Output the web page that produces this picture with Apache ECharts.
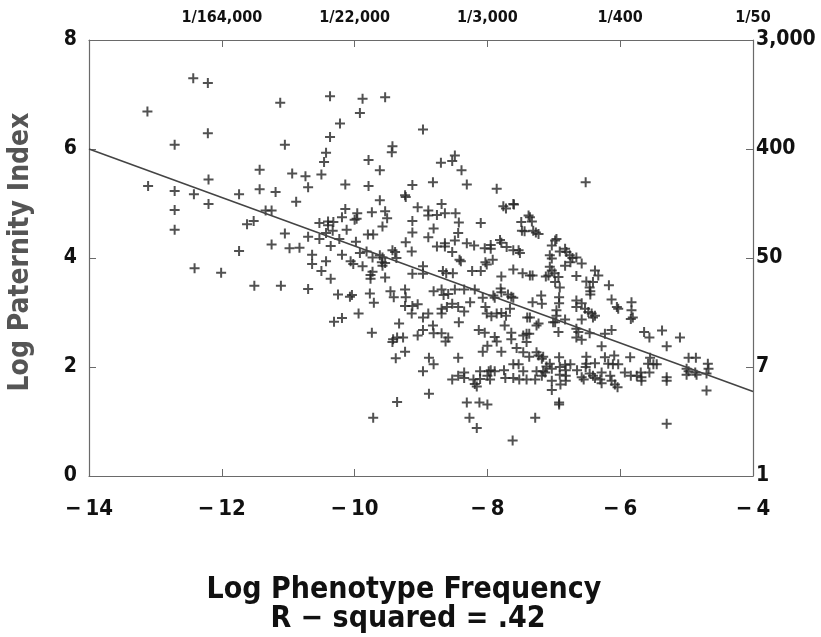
<!DOCTYPE html>
<html><head><meta charset="utf-8">
<script src="https://cdn.jsdelivr.net/npm/echarts/dist/echarts.min.js"></script>
<style>html,body{margin:0;padding:0;background:#fff}#c{width:821px;height:637px}</style>
</head><body><div id="c"></div>
<script>
// Tick labels
const topLabels = ['', '1/164,000', '1/22,000', '1/3,000', '1/400', '1/50'];
const rightLabels = ['1', '7', '50', '400', '3,000'];
// Regression line end points (Log Phenotype Frequency, Log Paternity Index)
const fitX = [-14, -4];
const fitY = [6.0, 1.55];
// Scatter points [log phenotype frequency, log paternity index]
const groupA = [[-12.43,7.30],[-12.21,7.21],[-13.12,6.69],[-11.12,6.85],[-12.21,6.29],[-12.71,6.08],[-11.05,6.08],[-11.43,5.62],[-10.94,5.55],[-10.74,5.50],[-12.20,5.44],[-13.11,5.32],[-10.70,5.30],[-12.71,5.23],[-12.42,5.17],[-11.74,5.17],[-11.43,5.26],[-11.19,5.21],[-12.20,4.99],[-10.88,5.03],[-12.71,4.88],[-11.34,4.87],[-11.25,4.87],[-11.52,4.68],[-11.62,4.62],[-12.71,4.52],[-11.05,4.45],[-10.70,4.39],[-11.25,4.25],[-10.98,4.18],[-10.83,4.19],[-11.74,4.13],[-12.41,3.81],[-12.01,3.73],[-11.51,3.49],[-11.11,3.49],[-10.70,3.43]];
const groupB = [[-10.37,6.97],[-9.88,6.92],[-9.54,6.95],[-9.92,6.66],[-10.22,6.47],[-10.37,6.22],[-8.97,6.36],[-9.43,6.05],[-9.44,5.94],[-10.43,5.93],[-10.46,5.76],[-9.79,5.80],[-9.62,5.61],[-8.70,5.75],[-8.53,5.78],[-8.49,5.88],[-8.39,5.61],[-10.50,5.53],[-10.14,5.35],[-9.79,5.32],[-9.13,5.34],[-8.82,5.39],[-8.31,5.35],[-7.86,5.27],[-9.24,5.15],[-9.23,5.12],[-9.62,5.06],[-10.14,4.90],[-9.05,4.93],[-8.89,4.87],[-8.89,4.78],[-8.69,4.99],[-7.76,4.95],[-7.61,4.99],[-9.54,4.86],[-9.74,4.84],[-9.96,4.82],[-9.97,4.72],[-10.00,4.70],[-10.19,4.75],[-8.76,4.79],[-8.64,4.82],[-8.48,4.82],[-9.51,4.73],[-9.13,4.68],[-8.43,4.65],[-9.58,4.58],[-10.53,4.64],[-10.40,4.67],[-10.40,4.60],[-10.32,4.66],[-10.43,4.46],[-10.33,4.50],[-8.10,4.64],[-8.81,4.54],[-10.53,4.35],[-10.12,4.52],[-9.80,4.43],[-9.72,4.43],[-8.44,4.46],[-9.13,4.47],[-8.89,4.38],[-8.49,4.32],[-7.81,4.33],[-7.79,4.28],[-10.23,4.35],[-9.98,4.30],[-9.23,4.29],[-8.31,4.27],[-8.20,4.23],[-8.64,4.27],[-8.64,4.21],[-8.76,4.21],[-8.04,4.18],[-7.95,4.24],[-7.95,4.17],[-7.71,4.20],[-7.61,4.14],[-7.53,4.14]];
const groupC = [[-10.36,4.22],[-9.82,4.12],[-9.43,4.14],[-9.39,4.11],[-9.14,4.12],[-8.53,4.11],[-10.64,4.06],[-10.19,4.06],[-9.92,4.09],[-9.73,4.01],[-9.62,4.05],[-9.58,4.01],[-9.37,4.00],[-10.64,3.89],[-10.43,3.94],[-10.06,3.94],[-10.02,3.89],[-9.88,3.85],[-9.59,3.92],[-9.58,3.86],[-9.54,3.91],[-8.42,3.97],[-8.40,3.94],[-8.03,3.92],[-8.01,3.88],[-7.92,3.97],[-8.97,3.85],[-7.61,3.79],[-10.50,3.76],[-9.73,3.75],[-9.76,3.69],[-9.13,3.71],[-8.97,3.71],[-8.67,3.76],[-8.62,3.72],[-8.52,3.72],[-8.23,3.76],[-8.10,3.76],[-7.79,3.66],[-10.36,3.62],[-9.76,3.62],[-9.54,3.64]];
const groupD = [[-6.52,5.39],[-7.72,4.91],[-7.60,4.98],[-7.49,4.66],[-7.36,4.75],[-7.33,4.67],[-7.38,4.78],[-7.48,4.50],[-7.44,4.49],[-7.31,4.50],[-7.27,4.47],[-7.23,4.44],[-7.51,4.09],[-7.47,3.72],[-7.36,3.68],[-7.32,3.68],[-7.80,3.44],[-7.79,3.37],[-7.69,3.33],[-7.64,3.29],[-7.61,3.27],[-8.07,3.27],[-7.91,3.31],[-7.89,3.27],[-7.19,3.31],[-6.92,3.28],[-6.96,4.35],[-6.98,4.32],[-7.03,4.23],[-6.83,4.17],[-6.81,4.11],[-7.06,4.05],[-7.03,3.99],[-6.91,4.12],[-6.76,4.05],[-6.72,4.00],[-6.66,4.01],[-6.75,3.92],[-6.58,3.90],[-6.83,3.86],[-7.06,3.84],[-7.03,3.77],[-7.08,3.68],[-7.12,3.66],[-6.99,3.72],[-6.98,3.56],[-6.93,3.65],[-6.91,3.46],[-6.66,3.67],[-6.38,3.77],[-6.33,3.68],[-6.51,3.57],[-6.46,3.46],[-6.41,3.56],[-6.45,3.39],[-6.45,3.33],[-6.17,3.50],[-6.13,3.24]];
const groupE = [[-10.25,3.33],[-10.07,3.29],[-10.04,3.32],[-9.77,3.35],[-9.71,3.18],[-9.94,2.98],[-10.19,2.90],[-10.31,2.83],[-9.74,2.63],[-9.46,3.39],[-9.41,3.28],[-9.24,3.42],[-9.23,3.28],[-9.24,3.12],[-9.13,3.12],[-9.05,3.15],[-9.14,2.98],[-8.97,2.91],[-8.89,2.98],[-9.33,2.80],[-8.97,2.68],[-9.05,2.58],[-8.82,2.76],[-8.81,2.62],[-8.69,2.62],[-8.63,2.47],[-8.59,2.54],[-8.81,3.39],[-8.69,3.42],[-8.66,3.32],[-8.59,3.34],[-8.69,3.07],[-8.69,2.98],[-8.61,3.10],[-8.53,3.16],[-8.44,3.10],[-8.35,3.02],[-8.43,2.82],[-8.49,3.42],[-8.35,3.42],[-8.26,3.19],[-8.19,3.42],[-9.42,2.51],[-9.36,2.54],[-9.27,2.54],[-9.43,2.46],[-9.24,2.28],[-9.38,2.16],[-8.88,2.17],[-8.81,2.05],[-8.97,1.92],[-8.44,2.17],[-9.36,1.36],[-9.72,1.07],[-8.88,1.51],[-8.53,1.77],[-8.44,1.84],[-8.35,1.90],[-8.35,1.80],[-8.21,1.77],[-8.19,1.69],[-8.16,1.64],[-8.11,1.78],[-8.11,1.92],[-8.00,1.84],[-7.98,1.92],[-7.95,1.94],[-7.89,1.92],[-7.96,1.77],[-8.31,1.35],[-8.12,1.35],[-8.00,1.31],[-8.27,1.07],[-8.16,0.88],[-8.07,2.28],[-8.13,2.68],[-8.04,2.63],[-8.03,3.10],[-8.01,2.98],[-7.94,2.93],[-7.86,2.98],[-7.79,2.99],[-7.72,2.94],[-7.66,3.07],[-7.74,2.76],[-7.89,2.55],[-7.86,2.47],[-8.00,2.39],[-7.79,2.28],[-7.64,2.63],[-7.64,2.51],[-7.56,2.35],[-7.75,1.94],[-7.73,1.80],[-7.61,1.80],[-7.61,2.05],[-7.53,2.05],[-7.62,0.65]];
const groupF = [[-7.40,2.91],[-7.36,2.91],[-7.26,2.76],[-7.23,2.80],[-7.46,2.58],[-7.41,2.61],[-7.37,2.61],[-7.41,2.46],[-7.46,2.27],[-7.26,2.27],[-7.23,2.21],[-7.16,2.19],[-7.18,2.15],[-7.37,2.19],[-7.46,1.92],[-7.26,1.92],[-7.16,1.92],[-7.11,2.01],[-7.52,1.77],[-7.41,1.77],[-7.28,1.77],[-7.18,1.84],[-7.13,1.90],[-7.18,3.16],[-7.32,3.19],[-7.28,1.07]];
const groupG = [[-6.92,3.17],[-6.96,3.04],[-6.96,2.94],[-7.01,2.82],[-6.98,2.82],[-6.83,2.87],[-6.93,2.64],[-6.66,3.22],[-6.66,3.10],[-6.58,3.17],[-6.53,3.07],[-6.48,3.01],[-6.43,2.98],[-6.38,2.94],[-6.41,2.91],[-6.58,2.87],[-6.05,3.10],[-6.03,3.07],[-5.83,3.19],[-5.83,3.04],[-5.84,2.88],[-5.81,2.91],[-6.66,2.70],[-6.63,2.64],[-6.66,2.54],[-6.58,2.50],[-6.46,2.62],[-6.23,2.61],[-6.13,2.68],[-6.28,2.38],[-5.64,2.64],[-5.56,2.54],[-5.37,2.67],[-5.10,2.54],[-5.30,2.38],[-6.92,2.18],[-6.91,2.00],[-7.06,2.06],[-7.03,1.97],[-6.83,2.04],[-6.82,1.94],[-6.82,1.84],[-6.82,1.75],[-6.75,2.05],[-6.91,1.86],[-6.90,1.68],[-7.03,1.75],[-7.03,1.58],[-6.51,2.19],[-6.51,2.06],[-6.52,2.00],[-6.38,2.07],[-6.65,1.94],[-6.58,1.81],[-6.55,1.77],[-6.46,1.88],[-6.41,1.84],[-6.38,1.80],[-6.30,1.77],[-6.28,1.70],[-6.28,1.90],[-6.23,2.18],[-6.09,2.21],[-6.18,2.06],[-6.11,2.05],[-6.03,2.05],[-6.15,1.84],[-6.13,1.75],[-6.08,1.68],[-6.04,1.63],[-5.93,1.90],[-5.85,2.18],[-5.84,1.84],[-5.75,1.84],[-5.69,1.90],[-5.68,1.81],[-5.68,1.75],[-5.58,2.06],[-5.55,2.17],[-5.50,2.05],[-5.45,2.05],[-5.56,1.90],[-5.30,1.81],[-5.30,1.75],[-4.97,2.17],[-4.86,2.17],[-5.00,1.97],[-5.00,1.86],[-4.97,1.92],[-4.87,1.90],[-4.85,1.86],[-4.68,2.06],[-4.67,1.97],[-4.70,1.88],[-4.70,1.57],[-6.92,1.35],[-6.92,1.31],[-5.30,0.96]];

const points = [].concat(groupA, groupB, groupC, groupD, groupE, groupF, groupG);
const fitLine = fitX.map((x, i) => [x, fitY[i]]);

const FONT = "'Liberation Sans Narrow','DejaVu Sans Condensed','Liberation Sans',sans-serif";
const axisCol = '#6a6a6a';
const plus = 'path://M4,0H6V4H10V6H6V10H4V6H0V4H4Z';

const chart = echarts.init(document.getElementById('c'), null, {renderer: 'canvas'});
chart.setOption({
  backgroundColor: '#fff',
  animation: false,
  grid: {left: 89, right: 68, top: 40, bottom: 161, containLabel: false},
  xAxis: [{
    type: 'value', position: 'bottom', min: -14, max: -4, interval: 2,
    axisLine: {show: true, onZero: false, lineStyle: {color: axisCol, width: 1.2}},
    axisTick: {show: true, inside: true, length: 7, lineStyle: {color: axisCol}},
    splitLine: {show: false},
    axisLabel: {margin: 22, fontFamily: FONT, fontWeight: 'bold', fontSize: 22, color: '#111',
      formatter: v => v < 0 ? '\u2212\u2009' + Math.abs(v) : String(v)}
  }, {
    type: 'value', position: 'top', min: -14, max: -4, interval: 2,
    axisLine: {show: true, onZero: false, lineStyle: {color: axisCol, width: 1.2}},
    axisTick: {show: true, inside: true, length: 7, lineStyle: {color: axisCol}},
    splitLine: {show: false},
    axisLabel: {margin: 14, fontFamily: FONT, fontWeight: 'bold', fontSize: 16, color: '#111',
      formatter: v => topLabels[Math.round((v + 14) / 2)]}
  }],
  yAxis: [{
    type: 'value', position: 'left', min: 0, max: 8, interval: 2,
    axisLine: {show: true, onZero: false, lineStyle: {color: axisCol, width: 1.2}},
    axisTick: {show: true, inside: true, length: 7, lineStyle: {color: axisCol}},
    splitLine: {show: false},
    axisLabel: {margin: 12, fontFamily: FONT, fontWeight: 'bold', fontSize: 21, color: '#111'}
  }, {
    type: 'value', position: 'right', min: 0, max: 8, interval: 2,
    axisLine: {show: true, onZero: false, lineStyle: {color: axisCol, width: 1.2}},
    axisTick: {show: true, inside: true, length: 7, lineStyle: {color: axisCol}},
    splitLine: {show: false},
    axisLabel: {margin: 3, fontFamily: FONT, fontWeight: 'bold', fontSize: 21, color: '#111',
      formatter: v => rightLabels[Math.round(v / 2)]}
  }],
  graphic: [
    {type: 'text', x: 21, y: 252, rotation: Math.PI / 2,
      style: {text: 'Log Paternity Index', fontFamily: FONT, fontWeight: 'bold', fontSize: 28, fill: '#555', align: 'center', verticalAlign: 'middle'}},
    {type: 'text', x: 404, y: 590,
      style: {text: 'Log Phenotype Frequency', fontFamily: FONT, fontWeight: 'bold', fontSize: 30, fill: '#111', align: 'center', verticalAlign: 'middle'}},
    {type: 'text', x: 408, y: 619,
      style: {text: 'R \u2212 squared = .42', fontFamily: FONT, fontWeight: 'bold', fontSize: 30, fill: '#111', align: 'center', verticalAlign: 'middle'}}
  ],
  series: [{
    type: 'scatter', xAxisIndex: 0, yAxisIndex: 0, data: points,
    symbol: plus, symbolSize: 10,
    itemStyle: {color: '#262626'}
  }, {
    type: 'line', xAxisIndex: 0, yAxisIndex: 0, data: fitLine,
    symbol: 'none', lineStyle: {color: '#444', width: 1.6}
  }]
});
</script>
</body></html>
